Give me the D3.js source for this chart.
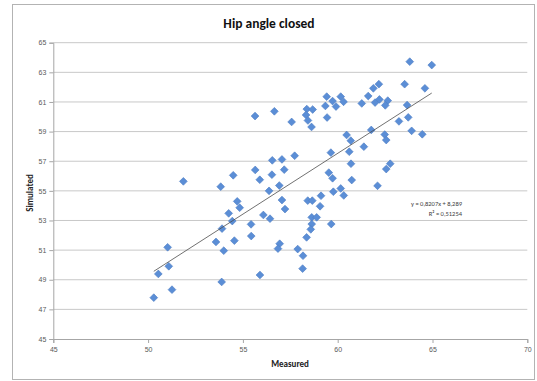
<!DOCTYPE html>
<html>
<head>
<meta charset="utf-8">
<script src="https://cdn.jsdelivr.net/npm/d3@7"></script>
<style>
  body { margin: 0; background: #fff; }
  svg { display: block; font-family: Carlito, "Open Sans", "Liberation Sans", sans-serif; }
</style>
</head>
<body>
<svg width="537" height="381"></svg>
<script>
const measured = [
  50.30, 50.54, 51.03, 51.09, 51.26, 51.86, 53.88, 53.58, 53.99, 54.55,
  53.90, 54.44, 54.25, 54.70, 54.83, 53.83, 54.49, 55.43, 55.44, 55.65,
  55.64, 56.66, 57.57, 58.37, 58.68, 58.33, 58.43, 58.62, 59.42, 59.73,
  60.16, 60.31, 59.35, 59.91, 59.44, 61.27, 61.61, 61.88, 62.17, 61.97,
  62.20, 62.64, 62.51, 63.53, 63.80, 64.96, 64.60, 63.66, 63.72, 63.23,
  63.90, 64.46, 61.77, 62.48, 62.56, 61.38, 60.47, 60.69, 59.64, 60.61,
  60.70, 62.56, 62.77, 62.10, 60.74, 59.53, 59.73, 59.77, 60.16, 60.32,
  59.12, 58.42, 58.66, 59.07, 57.73, 57.06, 56.55, 57.18, 56.53, 56.92,
  56.38, 57.06, 57.22, 55.89, 56.08, 56.43, 58.63, 58.89, 58.63, 58.58,
  58.36, 59.66, 56.94, 56.85, 57.89, 58.17, 58.15, 55.90
];
const simulated = [
  47.79, 49.39, 51.19, 49.91, 48.33, 55.64, 48.85, 51.55, 50.96, 51.64,
  52.45, 52.96, 53.48, 54.29, 53.86, 55.28, 56.05, 52.74, 51.95, 56.41,
  60.05, 60.37, 59.65, 60.52, 60.49, 60.12, 59.75, 59.31, 61.36, 61.06,
  61.36, 61.01, 60.73, 60.69, 59.95, 60.90, 61.40, 61.92, 62.20, 60.96,
  61.17, 61.09, 60.77, 62.20, 63.72, 63.49, 61.92, 60.79, 59.96, 59.69,
  59.05, 58.82, 59.11, 58.80, 58.43, 57.98, 58.77, 58.39, 57.58, 57.64,
  56.83, 56.47, 56.83, 55.34, 55.73, 56.23, 55.85, 54.94, 55.16, 54.69,
  54.67, 54.34, 54.34, 53.96, 57.37, 57.12, 57.06, 56.43, 56.09, 55.36,
  55.00, 54.38, 53.77, 55.75, 53.37, 53.12, 53.21, 53.21, 52.76, 52.40,
  51.86, 52.76, 51.43, 51.10, 51.07, 50.62, 49.75, 49.32
];
const xTicks = [45, 50, 55, 60, 65, 70];
const yTicks = [45, 47, 49, 51, 53, 55, 57, 59, 61, 63, 65];
const slope = 0.8207;
const intercept = 8.289;
const equationLabel = 'y = 0,8207x + 8,289';
const rSquaredLabel = 'R² = 0,51254';

const points = measured.map((m, i) => ({x: m, y: simulated[i]}));

const svg = d3.select('svg');
const margin = {left: 53.3, right: 10, top: 42.7, bottom: 42};
const width = 537, height = 381;

// outer chart frame
svg.append('rect')
  .attr('x', 12.5).attr('y', 4.5)
  .attr('width', 522).attr('height', 375)
  .attr('fill', 'none')
  .attr('stroke', '#b3b3b3');

const x = d3.scaleLinear().domain([45, 70]).range([margin.left, 527.3]);
const y = d3.scaleLinear().domain([45, 65]).range([339, margin.top]);

// horizontal gridlines
svg.append('g')
  .selectAll('line')
  .data(yTicks.slice(1))
  .join('line')
    .attr('x1', x(45)).attr('x2', x(70))
    .attr('y1', d => y(d)).attr('y2', d => y(d))
    .attr('stroke', '#c8c8c8');

const yAxis = d3.axisLeft(y).tickValues(yTicks).tickSize(4).tickPadding(3);
svg.append('g')
  .attr('transform', `translate(${x(45)},0)`)
  .call(yAxis)
  .call(g => g.selectAll('.domain, .tick line').attr('stroke', '#a6a6a6'))
  .call(g => g.selectAll('text').attr('fill', '#595959').attr('font-size', 7).attr('font-family', 'inherit'));

const xAxis = d3.axisBottom(x).tickValues(xTicks).tickSize(4).tickPadding(4);
svg.append('g')
  .attr('transform', `translate(0,${y(45)})`)
  .call(xAxis)
  .call(g => g.selectAll('.domain, .tick line').attr('stroke', '#a6a6a6'))
  .call(g => g.selectAll('text').attr('fill', '#595959').attr('font-size', 7).attr('font-family', 'inherit'));

// data markers
const diamond = d3.symbol().type(d3.symbolSquare).size(30);
svg.append('g')
  .selectAll('path')
  .data(points)
  .join('path')
    .attr('d', diamond)
    .attr('transform', d => `translate(${x(d.x)},${y(d.y)}) rotate(45)`)
    .attr('fill', '#5b8ed6')
    .attr('stroke', '#4f7fc4')
    .attr('stroke-width', 0.6);

// linear trendline over the measured range
const xExtent = d3.extent(measured);
svg.append('path')
  .attr('d', d3.line().x(d => x(d)).y(d => y(slope * d + intercept))(xExtent))
  .attr('fill', 'none')
  .attr('stroke', '#4d4d4d')
  .attr('stroke-width', 0.8);

svg.append('text')
  .attr('x', 462).attr('y', 206)
  .attr('text-anchor', 'end')
  .attr('font-size', 6.5)
  .attr('fill', '#404040')
  .text(equationLabel);
svg.append('text')
  .attr('x', 462).attr('y', 216)
  .attr('text-anchor', 'end')
  .attr('font-size', 6.5)
  .attr('fill', '#404040')
  .text(rSquaredLabel);

// titles
svg.append('text')
  .attr('x', 269).attr('y', 28)
  .attr('text-anchor', 'middle')
  .attr('font-size', 13.5)
  .attr('font-weight', 'bold')
  .attr('fill', '#111')
  .text('Hip angle closed');

svg.append('text')
  .attr('x', 290).attr('y', 367)
  .attr('text-anchor', 'middle')
  .attr('font-size', 9)
  .attr('font-weight', 'bold')
  .attr('fill', '#222')
  .text('Measured');

svg.append('text')
  .attr('transform', 'translate(33,193) rotate(-90)')
  .attr('text-anchor', 'middle')
  .attr('font-size', 9)
  .attr('font-weight', 'bold')
  .attr('fill', '#222')
  .text('Simulated');
</script>
</body>
</html>
